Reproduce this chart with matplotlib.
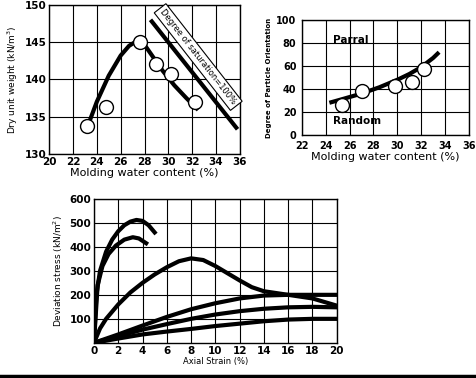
import matplotlib
matplotlib.use("Agg")
import matplotlib.pyplot as plt
from matplotlib.lines import Line2D

# --- compaction curve (top left) ---
w_pts = [23.2, 24.8, 27.6, 29.0, 30.2, 32.2]
gd_pts = [133.7, 136.3, 145.0, 142.0, 140.7, 136.9]
w_curve = [23.3, 24.0, 25.0, 26.0, 26.7, 27.3, 27.8, 28.5, 29.5, 30.5, 31.5, 32.5]
gd_curve = [134.0, 137.0, 140.5, 143.2, 144.5, 145.1, 145.1, 143.5, 141.2, 139.2, 137.5, 135.9]
sat_w = [28.5, 35.8]
sat_gd = [148.0, 133.3]

# --- particle orientation (top right) ---
po_w = [25.4, 27.0, 29.8, 31.2, 32.2]
po_deg = [26, 38, 43, 46, 57]
po_curve_w = [24.3, 25.5, 27.0, 28.5, 30.0, 31.0, 32.0, 33.0, 33.5]
po_curve_deg = [28, 31.5, 36, 41.5, 48, 53, 59, 67, 72]

# --- stress-strain (bottom) ---
curves = [
    ([0, 0.2, 0.5, 1.0, 1.5, 2.0, 2.5, 3.0, 3.5, 4.0, 4.5, 5.0],
     [0, 200, 300, 380, 430, 465, 490, 505, 512, 508, 490, 460]),
    ([0, 0.3, 0.7, 1.2, 1.8, 2.5, 3.2, 3.7, 4.3],
     [0, 240, 320, 370, 405, 430, 440, 435, 415]),
    ([0, 0.5, 1, 2, 3, 4, 5, 6, 7, 8, 9, 10, 11, 12, 13, 14, 16, 18, 20],
     [0, 60, 100, 160, 210, 250, 285, 315, 340, 352, 345, 320, 290, 260, 232, 215, 200, 185, 155]),
    ([0, 2, 4, 6, 8, 10, 12, 14, 16, 18, 20],
     [0, 35, 72, 108, 140, 165, 185, 197, 200, 200, 200]),
    ([0, 2, 4, 6, 8, 10, 12, 14, 16, 18, 20],
     [0, 28, 55, 78, 100, 118, 132, 142, 148, 150, 148]),
    ([0, 2, 4, 6, 8, 10, 12, 14, 16, 18, 20],
     [0, 18, 35, 47, 58, 70, 80, 90, 97, 100, 100]),
]

plt.rcParams["font.family"] = "DejaVu Sans"
fig = plt.figure(figsize=(4.77, 3.78), dpi=100)


def style(ax, fs=7.5):
    ax.grid(True, color="black", linewidth=0.8)
    ax.set_axisbelow(True)
    ax.tick_params(length=0, labelsize=fs, pad=2)
    for lab in ax.get_xticklabels() + ax.get_yticklabels():
        lab.set_fontweight("bold")
    for s in ax.spines.values():
        s.set_linewidth(1.0)


ax1 = fig.add_axes([0.103, 0.593, 0.400, 0.394])
ax1.plot(w_curve, gd_curve, color="black", lw=3, solid_capstyle="butt")
ax1.plot(sat_w, sat_gd, color="black", lw=3, solid_capstyle="butt")
ax1.plot(w_pts, gd_pts, "o", ms=10, mfc="white", mec="black", mew=1)
ax1.set_xlim(20, 36)
ax1.set_ylim(130, 150)
ax1.set_xticks(range(20, 37, 2))
ax1.set_yticks(range(130, 151, 5))
ax1.set_xlabel("Molding water content (%)", fontsize=8, labelpad=1)
ax1.set_ylabel("Dry unit weight (kN/m$^3$)", fontsize=6.5, labelpad=3)
ax1.text(32.5, 143.0, "Degree of saturation=100%", rotation=-52, fontsize=6,
         ha="center", va="center",
         bbox=dict(boxstyle="square,pad=0.35", fc="white", ec="black", lw=0.8))
style(ax1)

ax2 = fig.add_axes([0.633, 0.643, 0.350, 0.304])
ax2.plot(po_curve_w, po_curve_deg, color="black", lw=3, solid_capstyle="butt")
ax2.plot(po_w, po_deg, "o", ms=10, mfc="white", mec="black", mew=1)
ax2.set_xlim(22, 36)
ax2.set_ylim(0, 100)
ax2.set_xticks(range(22, 37, 2))
ax2.set_yticks(range(0, 101, 20))
ax2.set_xlabel("Molding water content (%)", fontsize=8, labelpad=1)
ax2.set_ylabel("Degree of Particle Orientation", fontsize=5, fontweight="bold", labelpad=3)
ax2.text(24.6, 83, "Parral", fontsize=7.5, fontweight="bold", va="center")
ax2.text(24.6, 12, "Random", fontsize=7.5, fontweight="bold", va="center")
style(ax2, fs=7)
ax2.tick_params(axis="x", pad=4)
ax2.tick_params(axis="y", pad=4)

ax3 = fig.add_axes([0.197, 0.093, 0.509, 0.381])
for x, y in curves:
    ax3.plot(x, y, color="black", lw=3)
ax3.set_xlim(0, 20)
ax3.set_ylim(0, 600)
ax3.set_xticks(range(0, 21, 2))
ax3.set_yticks(range(100, 601, 100))
ax3.set_xlabel("Axial Strain (%)", fontsize=6, labelpad=1)
ax3.set_ylabel("Deviation stress (kN/m$^2$)", fontsize=6.5, labelpad=3)
style(ax3)

fig.add_artist(Line2D([0, 1], [0.004, 0.004], color="black", lw=2.5,
                      transform=fig.transFigure))

fig.savefig("out.png", dpi=100)
